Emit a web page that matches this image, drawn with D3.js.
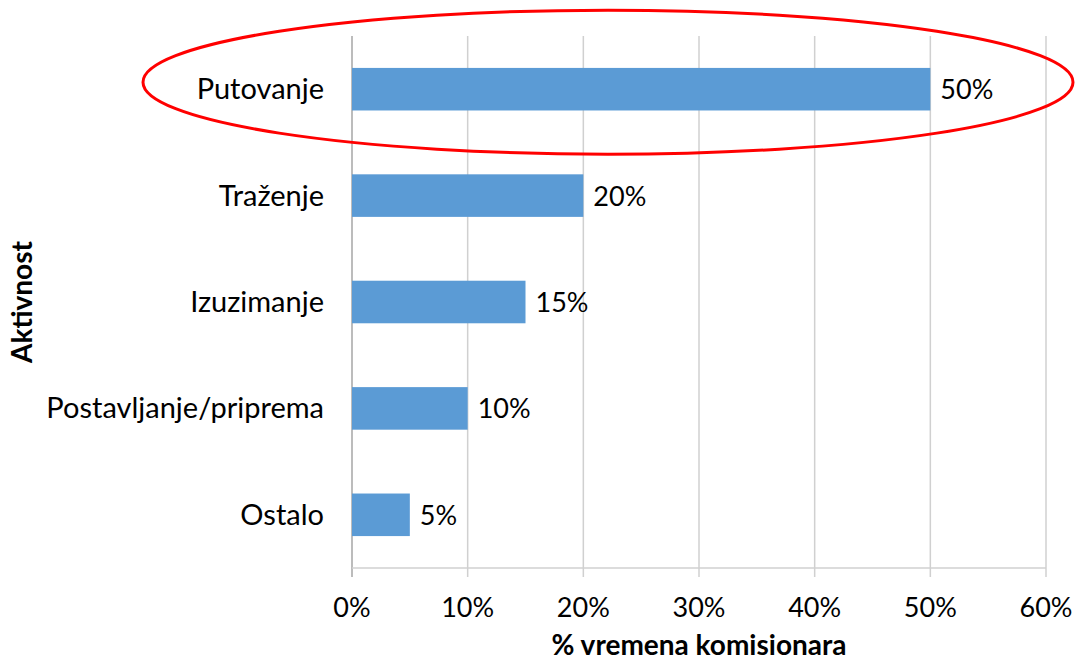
<!DOCTYPE html>
<html><head><meta charset="utf-8">
<script src="https://cdn.jsdelivr.net/npm/d3@7"></script>
<style>
html,body{margin:0;padding:0;background:#fff;}
svg text{font-family:Lato, "Open Sans", sans-serif;fill:#000;}
</style></head>
<body><svg id="chart" width="1075" height="662"></svg>
<script>
const categories = ["Putovanje","Traženje","Izuzimanje","Postavljanje/priprema","Ostalo"];
const values = [50,20,15,10,5];
const xTicks = [0,10,20,30,40,50,60];
const xTitle = "% vremena komisionara";
const yTitle = "Aktivnost";

const svg = d3.select("#chart");
const m = {left:352, right:1046, top:36, bottom:568};
const x = d3.scaleLinear().domain([0,60]).range([m.left,m.right]);
const y = d3.scaleBand().domain(categories).range([m.top,m.bottom]).paddingInner(0.6).paddingOuter(0.3);

// grid
svg.append("g").selectAll("line").data(xTicks.slice(1)).join("line")
  .attr("x1",d=>x(d)).attr("x2",d=>x(d)).attr("y1",m.top).attr("y2",m.bottom+9)
  .attr("stroke","#d0d0d0").attr("stroke-width",1.5);
svg.append("line").attr("x1",x(0)).attr("x2",x(0)).attr("y1",m.top).attr("y2",m.bottom+9)
  .attr("stroke","#a6a6a6").attr("stroke-width",1.5);
svg.append("line").attr("x1",m.left).attr("x2",m.right).attr("y1",m.bottom).attr("y2",m.bottom)
  .attr("stroke","#d0d0d0").attr("stroke-width",1.5);

// x tick labels
svg.append("g").selectAll("text").data(xTicks).join("text")
  .attr("x",d=>x(d)).attr("y",617).attr("text-anchor","middle")
  .style("font-size","27px").text(d=>d+"%");

// bars
svg.append("g").selectAll("rect").data(categories).join("rect")
  .attr("x",x(0)).attr("y",c=>y(c)).attr("width",(c,i)=>x(values[i])-x(0))
  .attr("height",y.bandwidth()).attr("fill","#5b9bd5");

// value labels
svg.append("g").selectAll("text").data(categories).join("text")
  .attr("x",(c,i)=>x(values[i])+10).attr("y",c=>y(c)+y.bandwidth()/2+10)
  .style("font-size","27px").text((c,i)=>values[i]+"%");

// category labels
svg.append("g").selectAll("text").data(categories).join("text")
  .attr("x",324).attr("y",c=>y(c)+y.bandwidth()/2+10).attr("text-anchor","end")
  .style("font-size","29px").text(c=>c);

// titles
svg.append("text").attr("x",(m.left+m.right)/2).attr("y",655).attr("text-anchor","middle")
  .style("font-size","28px").style("font-weight","bold").text(xTitle);
svg.append("text").attr("transform","translate(32,302) rotate(-90)").attr("text-anchor","middle")
  .style("font-size","28px").style("font-weight","bold").text(yTitle);

// highlight ellipse
svg.append("ellipse").attr("cx",608).attr("cy",y(categories[0])+y.bandwidth()/2-7)
  .attr("rx",465).attr("ry",72).attr("fill","none").attr("stroke","#ff0000").attr("stroke-width",3);
</script></body></html>
